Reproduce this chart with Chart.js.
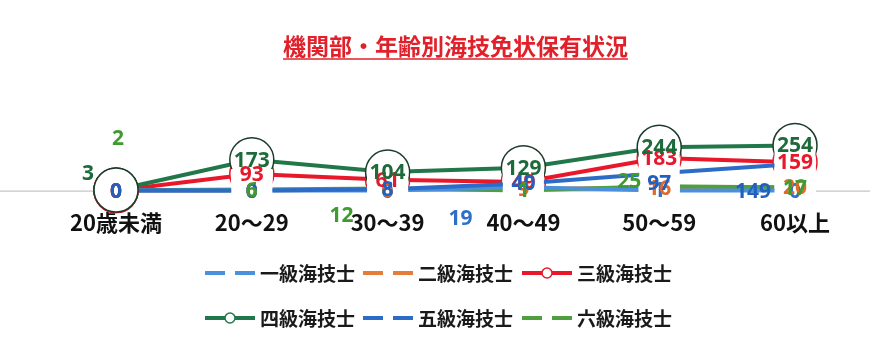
<!DOCTYPE html>
<html>
<head>
<meta charset="utf-8">
<script src="https://cdn.jsdelivr.net/npm/chart.js@4"></script>
<style>
  html, body { margin: 0; padding: 0; background: #fff; }
  #wrap { width: 884px; height: 345px; position: relative; }
</style>
</head>
<body>
<div id="wrap"><canvas id="chart"></canvas></div>
<script>
const categories = ['20歳未満', '20～29', '30～39', '40～49', '50～59', '60以上'];
const grade1 = [0, 0, 0, 19, 1, 0];
const grade2 = [0, 0, 6, 9, 16, 20];
const grade3 = [0, 93, 61, 49, 183, 159];
const grade4 = [3, 173, 104, 129, 244, 254];
const grade5 = [0, 0, 8, 40, 97, 149];
const grade6 = [2, 6, 12, 1, 25, 17];
const titleText = '機関部・年齢別海技免状保有状況';

const CJK = '"Noto Sans CJK JP", "Noto Sans", sans-serif';

// plain series: white square markers hide the lines under the labels
function plain(label, data, color, textColor, order) {
  return {
    label: label, data: data, order: order,
    borderColor: color, borderWidth: 4, tension: 0, clip: false,
    pointStyle: 'rect', pointBorderWidth: 0, pointBackgroundColor: '#fff',
    pointRadius: function (c) { return c.dataIndex === 0 ? 0 : 29; },
    pointHoverRadius: 0,
    labelColor: textColor, marker: false
  };
}
function ringed(label, data, color, ring, textColor, order) {
  return {
    label: label, data: data, order: order,
    borderColor: color, borderWidth: 4, tension: 0, clip: false,
    pointStyle: 'circle', pointRadius: 22, pointHoverRadius: 22,
    pointBackgroundColor: '#fff', pointBorderColor: ring, pointBorderWidth: 1.5,
    labelColor: textColor, marker: true
  };
}

// labels that sit away from their point in the original
const labelShift = {
  '一級海技士': { 3: [-63, 31] },
  '四級海技士': { 0: [-28, -17] },
  '五級海技士': { 4: [0, 10], 5: [-42, 27] },
  '六級海技士': { 0: [2, -52], 2: [-46, 27], 4: [-30, -5] }
};

const extras = {
  id: 'extras',
  beforeDatasetsDraw(chart) {
    const ctx = chart.ctx;
    const y0 = chart.scales.y.getPixelForValue(0);
    ctx.save();
    ctx.strokeStyle = '#b8b8b8';
    ctx.lineWidth = 1;
    ctx.beginPath();
    ctx.moveTo(0, y0 + 0.5);
    ctx.lineTo(870, y0 + 0.5);
    ctx.stroke();
    ctx.restore();
  },
  afterDatasetsDraw(chart) {
    const ctx = chart.ctx;
    // first markers stay on top of the thin lines
    chart.data.datasets.forEach(function (ds, i) {
      if (ds.marker) chart.getDatasetMeta(i).data[0].draw(ctx, chart.chartArea);
    });
    ctx.save();
    ctx.font = 'bold 21px "Noto Sans", sans-serif';
    ctx.textAlign = 'center';
    ctx.textBaseline = 'middle';
    chart.data.datasets.forEach(function (ds, i) {
      const meta = chart.getDatasetMeta(i);
      const shifts = labelShift[ds.label] || {};
      ctx.fillStyle = ds.labelColor;
      meta.data.forEach(function (pt, j) {
        const s = shifts[j] || [0, 0];
        ctx.fillText(String(ds.data[j]), pt.x + s[0], pt.y + s[1] + 1);
      });
    });
    ctx.restore();
  },
  afterDraw(chart) {
    const ctx = chart.ctx;
    ctx.save();
    // title underline
    const tb = chart.titleBlock;
    ctx.font = 'bold 23px ' + CJK;
    const w = ctx.measureText(titleText).width;
    const cx = (tb.left + tb.right) / 2;
    ctx.strokeStyle = '#e2202a';
    ctx.lineWidth = 1.5;
    ctx.beginPath();
    ctx.moveTo(cx - w / 2, 59);
    ctx.lineTo(cx + w / 2, 59);
    ctx.stroke();

    // legend
    ctx.font = 'bold 19px ' + CJK;
    ctx.textBaseline = 'middle';
    ctx.textAlign = 'left';
    chart.data.datasets.forEach(function (ds, i) {
      const x = [205, 363, 522][i % 3];
      const y = [273, 318][Math.floor(i / 3)];
      ctx.strokeStyle = ds.borderColor;
      ctx.lineWidth = 4;
      ctx.beginPath();
      if (ds.marker) {
        ctx.moveTo(x, y); ctx.lineTo(x + 50, y);
        ctx.stroke();
        ctx.beginPath();
        ctx.arc(x + 25, y, 5, 0, Math.PI * 2);
        ctx.fillStyle = '#fff';
        ctx.fill();
        ctx.lineWidth = 1.5;
        ctx.stroke();
      } else {
        ctx.moveTo(x, y); ctx.lineTo(x + 20, y);
        ctx.moveTo(x + 30, y); ctx.lineTo(x + 50, y);
        ctx.stroke();
      }
      ctx.fillStyle = '#1a1a1a';
      ctx.fillText(ds.label, x + 55, y + 1);
    });
    ctx.restore();
  }
};

new Chart(document.getElementById('chart').getContext('2d'), {
  type: 'line',
  data: {
    labels: categories,
    datasets: [
      plain('一級海技士', grade1, '#4a90dc', '#2f6fc8', 2),
      plain('二級海技士', grade2, '#e57c38', '#e06a2a', 4),
      ringed('三級海技士', grade3, '#e8182a', '#e8182a', '#e8182a', 6),
      ringed('四級海技士', grade4, '#22774a', '#1d3b2a', '#1d6b3a', 5),
      plain('五級海技士', grade5, '#2d6cc6', '#2260c0', 1),
      plain('六級海技士', grade6, '#4f9e40', '#3f9a30', 3)
    ]
  },
  options: {
    responsive: true,
    maintainAspectRatio: false,
    animation: false,
    events: [],
    layout: { padding: { left: 116, right: 89, top: 0, bottom: 90 } },
    plugins: {
      legend: { display: false },
      tooltip: { enabled: false },
      title: {
        display: true,
        text: titleText,
        color: '#e2202a',
        font: { family: CJK, size: 23, weight: 'bold' },
        padding: { top: 32, bottom: 10 }
      }
    },
    scales: {
      x: {
        offset: false,
        grid: { display: false, drawTicks: false },
        border: { display: false },
        ticks: {
          color: '#111',
          padding: 19,
          maxRotation: 0,
          autoSkip: false,
          font: { family: CJK, size: 22, weight: 'bold' }
        }
      },
      y: {
        display: false,
        min: 0,
        max: 680
      }
    }
  },
  plugins: [extras]
});
</script>
</body>
</html>
